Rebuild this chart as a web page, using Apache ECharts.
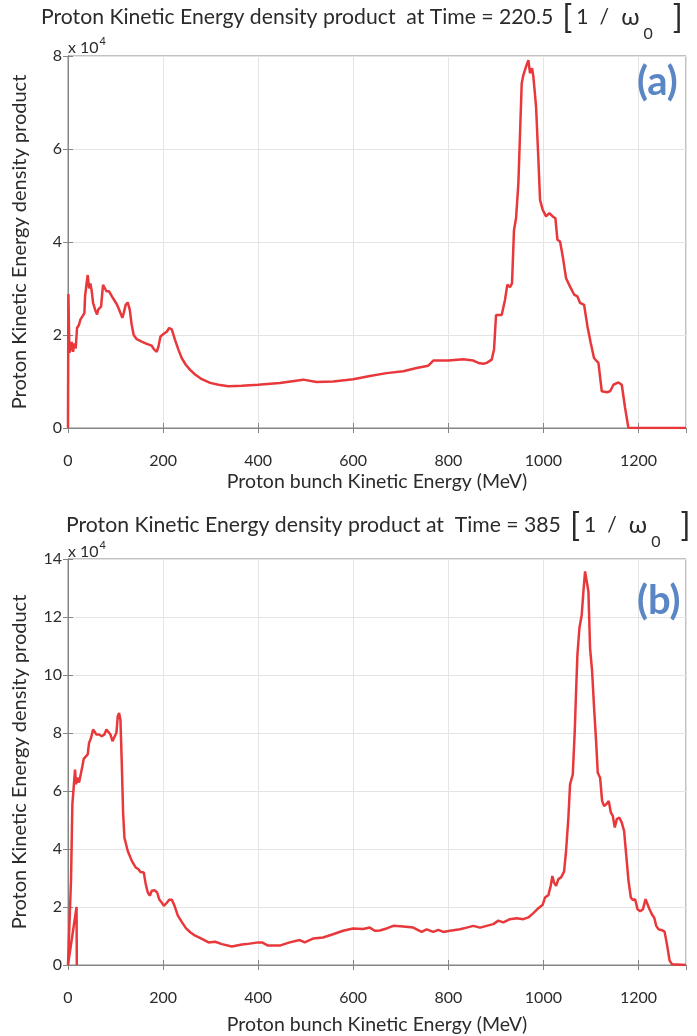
<!DOCTYPE html>
<html>
<head>
<meta charset="utf-8">
<title>Proton Kinetic Energy density product</title>
<script src="https://cdn.jsdelivr.net/npm/echarts@6/dist/echarts.min.js"></script>
<style>
  html, body { margin: 0; padding: 0; background: #ffffff; }
  #chart { width: 697px; height: 1036px; }
</style>
</head>
<body>
<div id="chart"></div>
<script>
// Panel (a): Time = 220.5 [1/ω0]; energy in MeV, density product in units of 10^4
const energyA = [0, 0.8, 3, 5, 7.8, 10.6, 13.4, 16.2, 19, 23.2, 26, 30.3, 34.5, 35.9, 38.7, 41.5, 44.3, 47.1, 50,
  52.7, 56.9, 61.1, 63.9, 69.5, 73.7, 76.5, 80.8, 86.4, 90.6, 94.8, 99, 103.2, 107.4, 111.6, 114.4, 117.2, 121.4,
  125.6, 129.8, 134, 138.2, 144.6, 155, 165.6, 176, 181.8, 186.7, 190.2, 194.5, 200.8, 207.8, 212.7, 218.3, 225.3,
  232.4, 239.4, 247.8, 256.8, 267.4, 281.4, 299, 316.5, 337.5, 365.6, 400, 445.6, 494.7, 522.8, 557.9, 600,
  635.1, 670.2, 705.3, 733.3, 757.9, 768.4, 789.5, 800, 831.6, 852.6, 863.2, 873.7, 880.8, 891.3, 896.2, 900.4,
  912.3, 919.3, 924.2, 929.8, 934, 938.2, 942.5, 947.4, 950.9, 954.4, 957.9, 963.5, 968.4, 971.9, 976.1, 978.9,
  984.6, 989.5, 993, 998.6, 1005.6, 1012.6, 1019.6, 1025.3, 1029.5, 1035.1, 1040.7, 1047.7, 1056.1, 1064.6,
  1071.6, 1077.2, 1085.6, 1092.6, 1099.6, 1106.6, 1115.8, 1122.8, 1133.3, 1140.4, 1147.4, 1157.9, 1164.9,
  1171.9, 1178.9, 1240, 1300];
const densityA = [0, 2.88, 1.62, 1.68, 1.85, 1.64, 1.82, 1.71, 2.15, 2.22, 2.33, 2.40, 2.47, 2.83, 3.08, 3.29, 3.00,
  3.11, 2.94, 2.69, 2.55, 2.44, 2.55, 2.61, 3.08, 3.11, 2.94, 2.94, 2.90, 2.79, 2.76, 2.65, 2.55, 2.44, 2.37, 2.47,
  2.65, 2.70, 2.55, 2.22, 2.00, 1.91, 1.86, 1.81, 1.77, 1.68, 1.64, 1.75, 1.97, 2.02, 2.07, 2.15, 2.12, 1.89,
  1.68, 1.50, 1.36, 1.25, 1.15, 1.05, 0.97, 0.93, 0.90, 0.91, 0.93, 0.97, 1.04, 0.99, 1.00, 1.05,
  1.12, 1.18, 1.22, 1.29, 1.34, 1.45, 1.45, 1.45, 1.48, 1.45, 1.40, 1.38, 1.40, 1.47, 1.69, 2.43,
  2.43, 2.76, 3.08, 3.03, 3.11, 4.26, 4.51, 5.26, 6.34, 7.41, 7.59, 7.77, 7.91, 7.63, 7.74, 7.56,
  6.91, 5.77, 4.90, 4.69, 4.55, 4.62, 4.55, 4.51, 4.05, 4.01, 3.69, 3.22, 3.04, 2.87,
  2.83, 2.69, 2.65, 2.19, 1.83, 1.50, 1.40, 0.79, 0.77, 0.79, 0.93, 0.98, 0.93,
  0.43, 0, 0, 0];

// Panel (b): Time = 385 [1/ω0]; the trace begins with a short spike near 18 MeV
const energyB = [18.5, 18, 0, 6.4, 9.2, 12, 14.8, 16.9, 19.7, 23.2, 26, 30.3, 33.1, 37.3, 41.5, 44.3, 48.5, 52.7,
  55.5, 59.8, 65.4, 71, 76.6, 80.8, 85, 89.3, 93.5, 97.7, 101.9, 104.7, 107.5, 110.3, 113.1, 115.9, 118.7, 122.9,
  125.7, 129.9, 134.2, 138.4, 142.6, 148.2, 152.4, 159.4, 163.6, 167.9, 172.1, 176.3, 181.9, 187.5, 191.8, 197.4,
  201.6, 207.2, 212.8, 218.5, 224.1, 231.1, 239.6, 248, 257.1, 267.6, 281.7, 295.7, 309.7, 323.7, 344.8, 365.9,
  375.5, 400, 408, 420.8, 445.3, 466.3, 487.4, 497.9, 515.4, 536.5, 557.5, 578.6, 599.6, 620.7, 634.7, 645.3,
  656, 670.2, 684.2, 705.3, 726.3, 743.9, 754.4, 768.4, 779, 789.5, 803.5, 824.6, 838.6, 852.6, 866.7, 880.7,
  894.7, 905.3, 915.8, 929.8, 943.9, 957.9, 968.4, 978.9, 989.5, 998.6, 1003.4, 1010.5, 1015.4, 1018.9, 1022.5,
  1026.7, 1031.6, 1037.2, 1043.5, 1047.7, 1052.6, 1056.1, 1061.8, 1066, 1068.8, 1071.6, 1075.8, 1080.7, 1084.2,
  1087.7, 1091.2, 1094.7, 1098.2, 1102.5, 1106.7, 1110.9, 1114.4, 1119.3, 1123.5, 1127.7, 1133.3, 1137.5,
  1141.8, 1146, 1150.2, 1154.4, 1160, 1164.9, 1169.8, 1174.1, 1179, 1183.9, 1188.1, 1193, 1198, 1203.6, 1209.3,
  1214.9, 1219.1, 1223.3, 1228.2, 1233.2, 1237.4, 1242.3, 1249.3, 1254.9, 1259.9, 1265.5, 1270.5, 1274, 1300];
const densityB = [0, 2.0, 0, 2.96, 5.54, 5.60, 6.74, 6.23, 6.46, 6.29, 6.51, 6.86, 7.11, 7.09, 7.26, 7.66, 7.83, 8.12,
  8.18, 7.95, 7.95, 7.89, 7.95, 8.12, 8.12, 7.95, 7.72, 7.78, 8.01, 8.58, 8.69, 8.46, 6.97, 5.25, 4.39, 4.33,
  3.93, 3.93, 3.59, 3.59, 3.36, 3.30, 3.21, 3.19, 2.78, 2.50, 2.39, 2.56, 2.58, 2.50, 2.27, 2.15,
  2.04, 2.13, 2.25, 2.25, 2.04, 1.70, 1.48, 1.27, 1.13, 1.01, 0.90, 0.78, 0.80, 0.72, 0.64, 0.71,
  0.72, 0.78, 0.78, 0.67, 0.67, 0.78, 0.86, 0.78, 0.91, 0.95, 1.06, 1.18, 1.26, 1.24, 1.29, 1.18,
  1.19, 1.26, 1.35, 1.33, 1.29, 1.14, 1.23, 1.14, 1.21, 1.14, 1.18, 1.23, 1.29, 1.35, 1.29, 1.35,
  1.41, 1.53, 1.47, 1.58, 1.61, 1.58, 1.64, 1.79, 1.96, 2.08, 2.33, 2.41, 2.73, 3.07, 2.84,
  2.73, 2.96, 3.02, 3.22, 3.93, 5.08, 6.23, 6.57, 8.07, 9.44, 10.70, 11.62, 12.08, 12.88,
  13.57, 13.63, 12.88, 10.93, 10.13, 8.86, 7.72, 6.63, 6.46, 5.66, 5.48, 5.56, 5.66,
  5.26, 5.14, 4.74, 5.03, 5.08, 4.91, 4.62, 3.82, 2.91, 2.33, 2.24, 2.27, 1.92, 1.85, 1.92,
  2.27, 2.29, 1.92, 1.75, 1.63, 1.35, 1.23, 1.20, 1.15, 0.72, 0.15, 0.03, 0, 0];

const xRange = [0, 1300];
const xStep = 200;
const yRangeA = [0, 8];
const yRangeB = [0, 14];
const yStep = 2;

const titleA = 'Proton Kinetic Energy density product  at Time = 220.5';
const titleB = 'Proton Kinetic Energy density product at  Time = 385';
const xName = 'Proton bunch Kinetic Energy (MeV)';
const yName = 'Proton Kinetic Energy density product';

const FONT = 'Lato';
const AXIS_GRAY = '#858585';
const TEXT = '#2b2b2b';
const LINE_RED = '#e8383b';

const pairs = (xs, ys) => xs.map((x, i) => [x, ys[i]]);
const plain = v => String(v);

const chart = echarts.init(document.getElementById('chart'), null, { renderer: 'canvas' });

function bottomX(gridIndex, nameGap) {
  return {
    type: 'value', gridIndex, position: 'bottom', min: xRange[0], max: xRange[1], interval: xStep,
    name: xName, nameLocation: 'middle', nameGap,
    nameTextStyle: { fontFamily: FONT, fontSize: 19.5, color: TEXT },
    axisLine: { show: true, lineStyle: { color: AXIS_GRAY, width: 1 } },
    axisTick: { show: true, inside: true, length: 5, lineStyle: { color: AXIS_GRAY } },
    axisLabel: { show: true, showMaxLabel: false, margin: 25, formatter: plain, fontFamily: FONT, fontSize: 16, color: TEXT },
    splitLine: { show: true, lineStyle: { color: '#e4e4e4', width: 1 } }
  };
}
function topX(gridIndex) {
  return {
    type: 'value', gridIndex, position: 'top', min: xRange[0], max: xRange[1], interval: xStep,
    axisLine: { show: true, lineStyle: { color: AXIS_GRAY, width: 1 } },
    axisTick: { show: true, inside: true, length: 5, lineStyle: { color: AXIS_GRAY } },
    axisLabel: { show: false }, splitLine: { show: false }
  };
}
function leftY(gridIndex, range) {
  return {
    type: 'value', gridIndex, position: 'left', min: range[0], max: range[1], interval: yStep,
    name: yName, nameLocation: 'middle', nameGap: 38, nameRotate: 90,
    nameTextStyle: { fontFamily: FONT, fontSize: 20, color: TEXT },
    axisLine: { show: true, lineStyle: { color: AXIS_GRAY, width: 1 } },
    axisTick: { show: true, inside: true, length: 5, lineStyle: { color: AXIS_GRAY } },
    axisLabel: { show: true, margin: 6, formatter: plain, fontFamily: FONT, fontSize: 16, color: TEXT },
    splitLine: { show: true, lineStyle: { color: '#e4e4e4', width: 1 } }
  };
}
function rightY(gridIndex, range) {
  return {
    type: 'value', gridIndex, position: 'right', min: range[0], max: range[1], interval: yStep,
    axisLine: { show: true, lineStyle: { color: AXIS_GRAY, width: 1 } },
    axisTick: { show: true, inside: true, length: 5, lineStyle: { color: AXIS_GRAY } },
    axisLabel: { show: false }, splitLine: { show: false }
  };
}

// Title: main text, then the unit "[1 / ω0]" with tall brackets and a low subscript
function headline(text, left, top) {
  return {
    text: '{t|' + text + '}{b|[}{u|1}{v|/}{w|ω}{s|0}{c|]}',
    left, top, padding: 0,
    textStyle: {
      fontWeight: 'normal',
      rich: {
        t: { fontFamily: FONT, fontSize: 21.2, fontWeight: 'normal', color: TEXT },
        b: { fontFamily: FONT, fontSize: 33, fontWeight: 'normal', color: TEXT, padding: [0, 0, 0, 9] },
        u: { fontFamily: FONT, fontSize: 21.2, fontWeight: 'normal', color: TEXT, padding: [0, 0, 0, 4] },
        v: { fontFamily: FONT, fontSize: 21.2, fontWeight: 'normal', color: TEXT, padding: [0, 0, 0, 11] },
        w: { fontFamily: FONT, fontSize: 24, fontWeight: 'normal', color: TEXT, padding: [0, 0, 0, 12] },
        s: { fontFamily: FONT, fontSize: 16, fontWeight: 'normal', color: TEXT, padding: [34, 0, 0, 4] },
        c: { fontFamily: FONT, fontSize: 33, fontWeight: 'normal', color: TEXT, padding: [0, 0, 0, 20] }
      }
    }
  };
}
function multiplier(left, top) {
  return {
    text: '{m|x 10}{p|4}', left, top, padding: 0,
    textStyle: {
      fontWeight: 'normal',
      rich: {
        m: { fontFamily: FONT, fontSize: 16, fontWeight: 'normal', color: TEXT },
        p: { fontFamily: FONT, fontSize: 11, fontWeight: 'normal', color: TEXT, padding: [0, 0, 12, 1] }
      }
    }
  };
}
function panelTag(text, left, top) {
  return {
    text, left, top,
    textStyle: { fontFamily: FONT, fontSize: 40, fontWeight: 'bold', color: '#5b86c5' }
  };
}

chart.setOption({
  backgroundColor: '#ffffff',
  animation: false,
  title: [
    headline(titleA, 41, -8),
    multiplier(68, 36),
    panelTag('(a)', 632, 57),
    headline(titleB, 66, 500),
    multiplier(68, 540),
    panelTag('(b)', 632, 576)
  ],
  grid: [
    { left: 68, top: 56, width: 618, height: 372, show: true, borderColor: AXIS_GRAY, borderWidth: 1, backgroundColor: 'transparent' },
    { left: 68, top: 559, width: 618, height: 407, show: true, borderColor: AXIS_GRAY, borderWidth: 1, backgroundColor: 'transparent' }
  ],
  xAxis: [bottomX(0, 44), topX(0), bottomX(1, 50), topX(1)],
  yAxis: [leftY(0, yRangeA), rightY(0, yRangeA), leftY(1, yRangeB), rightY(1, yRangeB)],
  series: [
    {
      type: 'line', xAxisIndex: 0, yAxisIndex: 0, data: pairs(energyA, densityA),
      showSymbol: false, smooth: false, lineStyle: { color: LINE_RED, width: 2.5 }, z: 5
    },
    {
      type: 'line', xAxisIndex: 2, yAxisIndex: 2, data: pairs(energyB, densityB),
      showSymbol: false, smooth: false, lineStyle: { color: LINE_RED, width: 2.5 }, z: 5
    }
  ]
});
</script>
</body>
</html>
